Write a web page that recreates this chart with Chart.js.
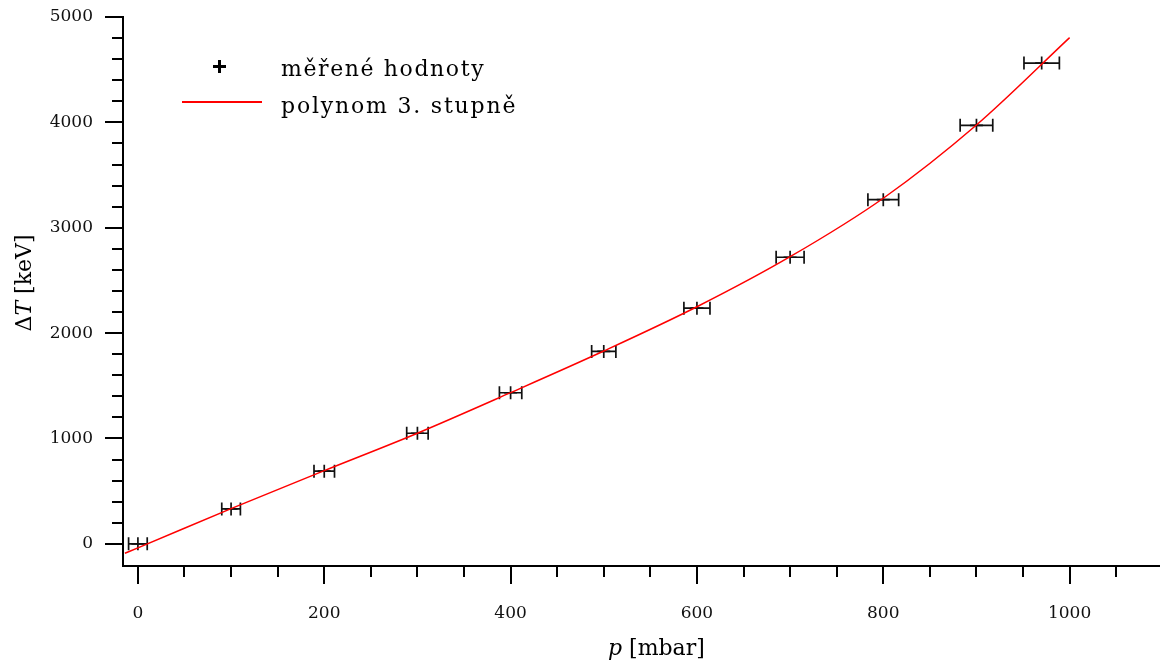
<!DOCTYPE html>
<html><head><meta charset="utf-8">
<script src="https://cdn.jsdelivr.net/npm/chart.js@4.4.1/dist/chart.umd.min.js"></script>
<style>
html,body{margin:0;padding:0;background:#fff;}
#wrap{position:relative;width:1160px;height:663px;overflow:hidden;}
canvas{position:absolute;left:0;top:0;}
.t{position:absolute;font-family:"DejaVu Serif",serif;color:#000;white-space:nowrap;line-height:1;}
</style></head><body>
<div id="wrap">
<canvas id="c" width="1160" height="663"></canvas>
<div id="legMark" style="position:absolute;left:213px;top:60px;width:13px;height:13px;">
  <div style="position:absolute;left:0;top:5px;width:13px;height:3px;background:#000"></div>
  <div style="position:absolute;left:5px;top:0;width:3px;height:13px;background:#000"></div>
</div>
<div style="position:absolute;left:182px;top:101px;width:80px;height:2px;background:#ff0000"></div>
<div class="t" id="leg1" style="left:281px;top:58px;font-size:22px;letter-spacing:1.6px">měřené hodnoty</div>
<div class="t" id="leg2" style="left:281px;top:95px;font-size:22px;letter-spacing:1.8px">polynom 3. stupně</div>
<div class="t" id="xt" style="left:608px;top:637px;font-size:22px;"><i>p</i> [mbar]</div>
<div class="t" id="yt" style="left:-31px;top:272px;font-size:22px;width:110px;text-align:center;transform:rotate(-90deg);">Δ<i>T</i> [keV]</div>
</div>
<script>
// measured points
const pressure = [0, 100, 200, 300, 400, 500, 600, 700, 800, 900, 970];
const deltaT   = [0, 332, 690, 1050, 1434, 1826, 2237, 2720, 3266, 3972, 4563];
const pressureErr = [10, 10, 11, 11.5, 12, 13, 14, 15, 16.5, 17.5, 19];
// 3rd degree polynomial curve
const fitP = [-14, 0, 100, 200, 300, 400, 500, 600, 700, 800, 900, 1000];
const fitT = [-89, -38, 335, 695, 1050, 1435, 1830, 2250, 2725, 3280, 3975, 4804];
// ticks
const xMajor = [0, 200, 400, 600, 800, 1000];
const xMinor = [50, 100, 150, 250, 300, 350, 450, 500, 550, 650, 700, 750, 850, 900, 950, 1050];
const yMajor = [0, 1000, 2000, 3000, 4000, 5000];
const yMinor = [200, 400, 600, 800, 1200, 1400, 1600, 1800, 2200, 2400, 2600, 2800, 3200, 3400, 3600, 3800, 4200, 4400, 4600, 4800];

const measured = pressure.map((p, i) => ({x: p, y: deltaT[i]}));
const curve = fitP.map((p, i) => ({x: p, y: fitT[i]}));

const errPlugin = {
  id: 'errbars',
  beforeDatasetsDraw(chart) {
    const {ctx, scales: {x, y}} = chart;
    ctx.save();
    ctx.strokeStyle = '#111';
    ctx.lineWidth = 1.7;
    pressure.forEach((p, i) => {
      const x0 = x.getPixelForValue(p - pressureErr[i]);
      const x1 = x.getPixelForValue(p + pressureErr[i]);
      const py = y.getPixelForValue(deltaT[i]);
      ctx.beginPath();
      ctx.moveTo(x0, py); ctx.lineTo(x1, py);
      ctx.moveTo(x0, py - 6.5); ctx.lineTo(x0, py + 6.5);
      ctx.moveTo(x1, py - 6.5); ctx.lineTo(x1, py + 6.5);
      ctx.stroke();
    });
    ctx.restore();
  },
  afterDraw(chart) {
    const {ctx, scales: {x, y}, chartArea} = chart;
    ctx.save();
    ctx.strokeStyle = '#000';
    ctx.lineWidth = 2;
    ctx.beginPath();
    xMinor.forEach(v => {
      const px = Math.round(x.getPixelForValue(v));
      ctx.moveTo(px, chartArea.bottom); ctx.lineTo(px, chartArea.bottom + 11);
    });
    yMinor.forEach(v => {
      const py = Math.round(y.getPixelForValue(v));
      ctx.moveTo(chartArea.left, py); ctx.lineTo(chartArea.left - 11, py);
    });
    ctx.stroke();
    ctx.restore();
  }
};

const tickFont = {family: '"DejaVu Serif", serif', size: 17};
new Chart(document.getElementById('c'), {
  type: 'scatter',
  data: {
    datasets: [
      {
        label: 'polynom 3. stupně',
        data: curve,
        showLine: true,
        borderColor: '#ff0000',
        borderWidth: 1.5,
        pointRadius: 0,
        cubicInterpolationMode: 'monotone',
        fill: false
      },
      {
        label: 'měřené hodnoty',
        data: measured,
        pointStyle: 'cross',
        pointRadius: 6.5,
        borderColor: '#111',
        backgroundColor: '#111',
        pointBorderWidth: 1.7
      }
    ]
  },
  options: {
    responsive: false,
    animation: false,
    devicePixelRatio: 1,
    layout: {autoPadding: false, padding: {top: 17, right: 0, left: 0, bottom: 0}},
    plugins: {legend: {display: false}, tooltip: {enabled: false}},
    scales: {
      x: {
        type: 'linear', position: 'bottom', min: -16, max: 1097,
        afterBuildTicks: s => { s.ticks = xMajor.map(v => ({value: v})); },
        border: {display: true, color: '#000', width: 2},
        grid: {drawOnChartArea: false, drawTicks: true, tickLength: 18, lineWidth: 2, color: '#000'},
        ticks: {font: tickFont, color: '#111', padding: 19, maxRotation: 0, autoSkip: false, callback: v => String(v)},
        afterFit: s => { s.height = 97; s.paddingLeft = 0; s.paddingRight = 0; }
      },
      y: {
        type: 'linear', position: 'left', min: -210, max: 5000,
        afterBuildTicks: s => { s.ticks = yMajor.map(v => ({value: v})); },
        border: {display: true, color: '#000', width: 2},
        grid: {drawOnChartArea: false, drawTicks: true, tickLength: 18, lineWidth: 2, color: '#000'},
        ticks: {font: tickFont, color: '#111', padding: 12, autoSkip: false, callback: v => String(v)},
        afterFit: s => { s.width = 123; s.paddingTop = 0; s.paddingBottom = 0; }
      }
    }
  },
  plugins: [errPlugin]
});
</script>
</body></html>
